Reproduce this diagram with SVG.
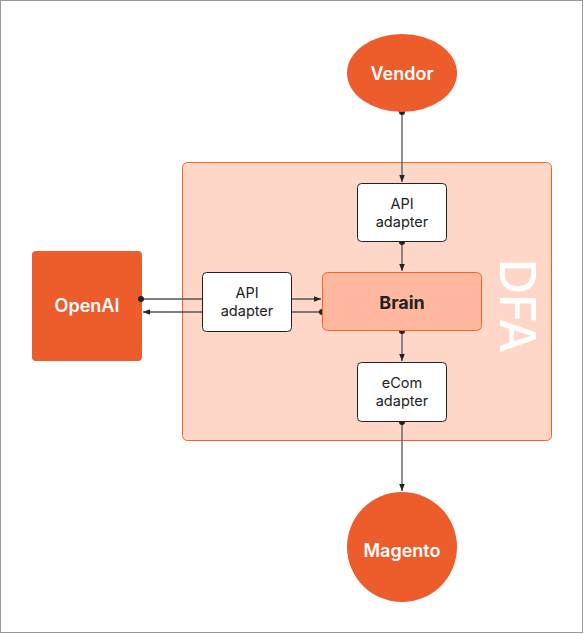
<svg xmlns="http://www.w3.org/2000/svg" width="584" height="634" viewBox="0 0 584 634">
<defs>
<style>
.frame{fill:#ffffff;stroke:#999999;stroke-width:1}
.term{fill:#ED5D2B}
.termtxt{font-family:Inter,"Liberation Sans",sans-serif;font-weight:600;font-size:18px;fill:#ffffff;text-anchor:middle}
.box{fill:#ffffff;stroke:#222222;stroke-width:1}
.boxtxt{font-family:Inter,"Liberation Sans",sans-serif;font-size:14.5px;fill:#222222;text-anchor:middle}
.conn{stroke:#555555;stroke-width:1.3;fill:none}
.dot{fill:#222222}
</style>
<marker id="arr" viewBox="0 0 10 10" refX="10" refY="5" markerWidth="7" markerHeight="7" markerUnits="userSpaceOnUse" orient="auto">
<path d="M0,1 L10,5 L0,9 z" fill="#222222"/>
</marker>
</defs>
<rect class="frame" x="0.5" y="0.5" width="582" height="632"/>
<g id="dfa">
<rect x="182.5" y="162.5" width="369" height="278" rx="5" fill="#FFD7C9" stroke="#F26522" stroke-width="1"/>
<text transform="translate(500,306) rotate(90)" font-family="Inter,'Liberation Sans',sans-serif" font-size="49" font-weight="500" fill="#ffffff" text-anchor="middle">DFA</text>
</g>
<g id="connectors">
<line class="conn" x1="402" y1="112" x2="402" y2="182" marker-end="url(#arr)"/>
<line class="conn" x1="402" y1="242" x2="402" y2="271" marker-end="url(#arr)"/>
<line class="conn" x1="402" y1="331" x2="402" y2="361" marker-end="url(#arr)"/>
<line class="conn" x1="402" y1="422" x2="402" y2="491" marker-end="url(#arr)"/>
<line class="conn" x1="141" y1="299" x2="321" y2="299" marker-end="url(#arr)"/>
<line class="conn" x1="322" y1="312" x2="143" y2="312" marker-end="url(#arr)"/>
<circle class="dot" cx="402" cy="112" r="3"/>
<circle class="dot" cx="402" cy="242" r="3"/>
<circle class="dot" cx="402" cy="331" r="3"/>
<circle class="dot" cx="402" cy="422" r="3"/>
<circle class="dot" cx="322" cy="312" r="3"/>
</g>
<g id="vendor">
<ellipse class="term" cx="402" cy="73" rx="55" ry="39"/>
<text class="termtxt" x="402" y="80">Vendor</text>
</g>
<g id="api-adapter-top">
<rect class="box" x="357.5" y="183.5" width="89" height="58" rx="4"/>
<text class="boxtxt" x="402" y="209">API</text>
<text class="boxtxt" x="402" y="227">adapter</text>
</g>
<g id="brain">
<rect x="322.5" y="272.5" width="159" height="58" rx="5" fill="#FFB89F" stroke="#F26522" stroke-width="1"/>
<text x="402" y="309" font-family="Inter,'Liberation Sans',sans-serif" font-size="18" font-weight="700" fill="#222222" text-anchor="middle">Brain</text>
</g>
<g id="api-adapter-left">
<rect class="box" x="202.5" y="272.5" width="89" height="59" rx="4"/>
<text class="boxtxt" x="247" y="298">API</text>
<text class="boxtxt" x="247" y="316">adapter</text>
</g>
<g id="ecom-adapter">
<rect class="box" x="357.5" y="362.5" width="89" height="59" rx="4"/>
<text class="boxtxt" x="402" y="388">eCom</text>
<text class="boxtxt" x="402" y="406">adapter</text>
</g>
<g id="openai">
<rect class="term" x="32" y="251" width="110" height="110" rx="4"/>
<text class="termtxt" x="87" y="312">OpenAI</text>
</g>
<circle class="dot" cx="141" cy="299" r="3"/>
<g id="magento">
<circle class="term" cx="402" cy="547" r="55"/>
<text class="termtxt" x="402" y="557">Magento</text>
</g>
</svg>
